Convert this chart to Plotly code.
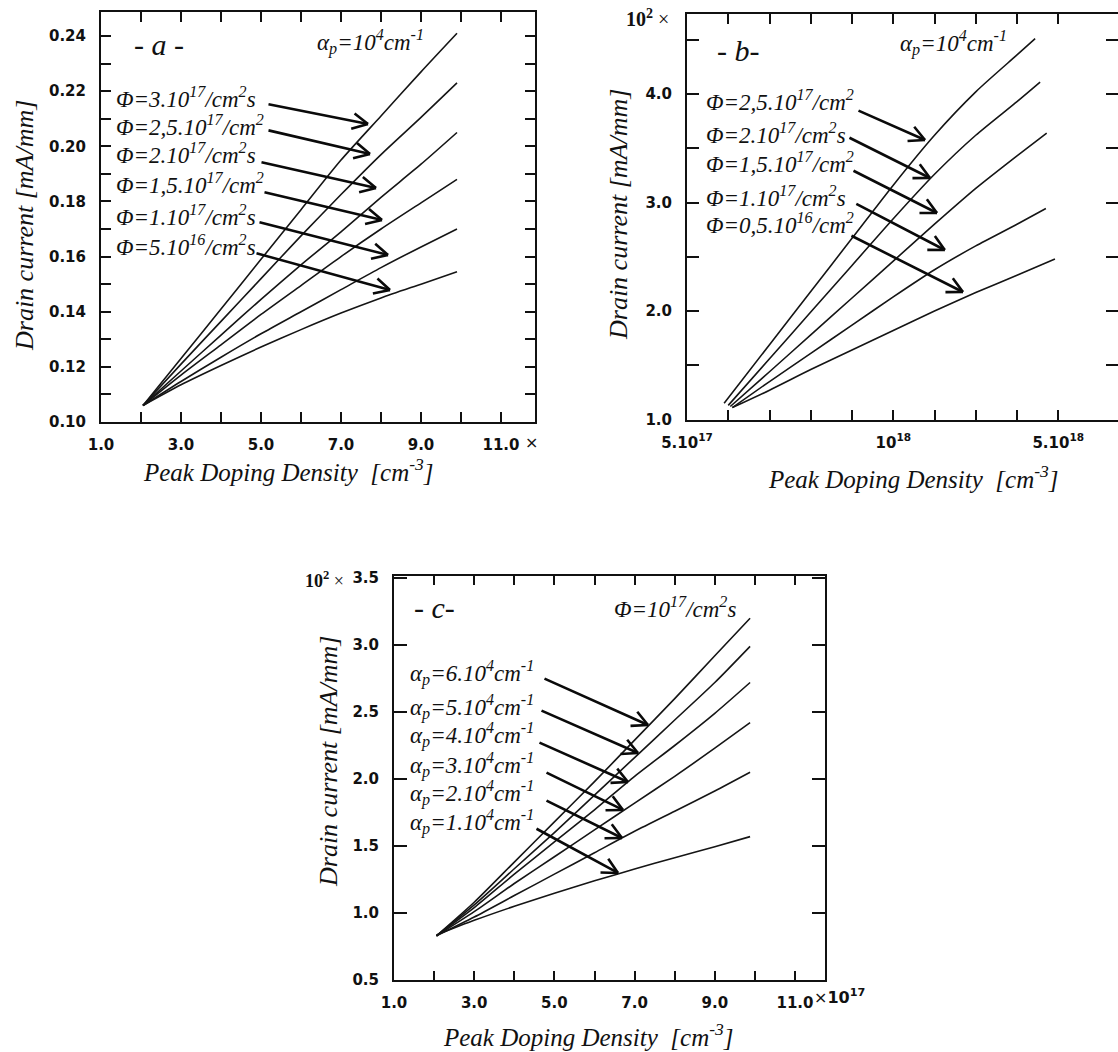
import math
import plotly.graph_objects as go

W, H = 1118, 1052

# ---------------- DATA ----------------
# Panel a : x in units of 1e17 cm^-3, current in 1e2 mA/mm
a_x = [2.05, 3, 4, 5, 6, 7, 8, 9, 9.9]
a_phi_3e17 = [0.106, 0.123, 0.141, 0.159, 0.177, 0.195, 0.211, 0.227, 0.241]
a_phi_25e17 = [0.106, 0.121, 0.1365, 0.152, 0.1675, 0.1825, 0.197, 0.2105, 0.223]
a_phi_2e17 = [0.106, 0.1185, 0.1315, 0.1445, 0.157, 0.169, 0.1815, 0.1935, 0.205]
a_phi_15e17 = [0.106, 0.117, 0.128, 0.139, 0.1495, 0.160, 0.170, 0.1795, 0.188]
a_phi_1e17 = [0.106, 0.1147, 0.1235, 0.132, 0.140, 0.148, 0.156, 0.1635, 0.170]
a_phi_5e16 = [0.106, 0.1135, 0.1205, 0.1272, 0.1335, 0.1395, 0.145, 0.150, 0.1545]
a_labels = ["Φ=3.10<sup>17</sup>/cm<sup>2</sup>s", "Φ=2,5.10<sup>17</sup>/cm<sup>2</sup>",
            "Φ=2.10<sup>17</sup>/cm<sup>2</sup>s", "Φ=1,5.10<sup>17</sup>/cm<sup>2</sup>",
            "Φ=1.10<sup>17</sup>/cm<sup>2</sup>s", "Φ=5.10<sup>16</sup>/cm<sup>2</sup>s"]
a_xticks = [1, 2, 3, 4, 5, 6, 7, 8, 9, 10, 11]
a_xticktext = ["1.0", "", "3.0", "", "5.0", "", "7.0", "", "9.0", "", "11.0"]
a_yticks = [0.10, 0.11, 0.12, 0.13, 0.14, 0.15, 0.16, 0.17, 0.18, 0.19, 0.20, 0.21, 0.22, 0.23, 0.24]
a_yticktext = ["0.10", "", "0.12", "", "0.14", "", "0.16", "", "0.18", "", "0.20", "", "0.22", "", "0.24"]

# Panel b : x in tick-step units of the original (irregular) axis
b_top_x = [0.9, 2, 3, 4, 5, 6, 7, 8, 8.44]
b_top_y = [1.15, 1.69, 2.18, 2.67, 3.16, 3.62, 4.02, 4.36, 4.51]
b_2_x = [1.0, 2, 3, 4, 5, 6, 7, 8, 8.56]
b_2_y = [1.13, 1.56, 1.99, 2.42, 2.85, 3.26, 3.62, 3.93, 4.11]
b_3_x = [1.05, 2, 3, 4, 5, 6, 7, 8, 8.72]
b_3_y = [1.12, 1.44, 1.78, 2.12, 2.46, 2.80, 3.13, 3.43, 3.64]
b_4_x = [1.1, 2, 3, 4, 5, 6, 7, 8, 8.7]
b_4_y = [1.11, 1.35, 1.61, 1.87, 2.13, 2.38, 2.60, 2.80, 2.945]
b_5_x = [1.1, 2, 3, 4, 5, 6, 7, 8, 8.92]
b_5_y = [1.11, 1.27, 1.46, 1.64, 1.82, 2.00, 2.17, 2.33, 2.48]
b_labels = ["Φ=2,5.10<sup>17</sup>/cm<sup>2</sup>", "Φ=2.10<sup>17</sup>/cm<sup>2</sup>s",
            "Φ=1,5.10<sup>17</sup>/cm<sup>2</sup>", "Φ=1.10<sup>17</sup>/cm<sup>2</sup>s",
            "Φ=0,5.10<sup>16</sup>/cm<sup>2</sup>"]
b_xticks = [0, 1, 2, 3, 4, 5, 6, 7, 8, 9]
b_xticktext = ["5.10<sup>17</sup>", "", "", "", "", "10<sup>18</sup>", "", "", "", "5.10<sup>18</sup>"]
b_yticks = [1.0, 1.5, 2.0, 2.5, 3.0, 3.5, 4.0, 4.5]
b_yticktext = ["1.0", "", "2.0", "", "3.0", "", "4.0", ""]

# Panel c
c_x = [2.06, 3, 4, 5, 6, 7, 8, 9, 9.88]
c_a6 = [0.83, 1.08, 1.38, 1.68, 1.98, 2.29, 2.60, 2.92, 3.20]
c_a5 = [0.83, 1.06, 1.33, 1.60, 1.88, 2.16, 2.44, 2.72, 2.99]
c_a4 = [0.83, 1.04, 1.29, 1.53, 1.77, 2.02, 2.25, 2.49, 2.72]
c_a3 = [0.83, 1.01, 1.22, 1.42, 1.62, 1.82, 2.02, 2.23, 2.42]
c_a2 = [0.83, 0.97, 1.13, 1.29, 1.45, 1.61, 1.76, 1.91, 2.05]
c_a1 = [0.836, 0.945, 1.05, 1.148, 1.24, 1.328, 1.413, 1.495, 1.57]
c_labels = ["α<sub>p</sub>=6.10<sup>4</sup>cm<sup>-1</sup>", "α<sub>p</sub>=5.10<sup>4</sup>cm<sup>-1</sup>",
            "α<sub>p</sub>=4.10<sup>4</sup>cm<sup>-1</sup>", "α<sub>p</sub>=3.10<sup>4</sup>cm<sup>-1</sup>",
            "α<sub>p</sub>=2.10<sup>4</sup>cm<sup>-1</sup>", "α<sub>p</sub>=1.10<sup>4</sup>cm<sup>-1</sup>"]
c_xticks = [1, 2, 3, 4, 5, 6, 7, 8, 9, 10, 11]
c_xticktext = ["1.0", "", "3.0", "", "5.0", "", "7.0", "", "9.0", "", "11.0"]
c_yticks = [0.5, 1.0, 1.5, 2.0, 2.5, 3.0, 3.5]
c_yticktext = ["0.5", "1.0", "1.5", "2.0", "2.5", "3.0", "3.5"]

# ---------------- helpers ----------------
def px(x):
    return x / W


def py(y):
    return 1 - y / H


LINE = dict(color="#151515", width=1.6, shape="spline", smoothing=0.7)
fig = go.Figure()

for ys in [a_phi_3e17, a_phi_25e17, a_phi_2e17, a_phi_15e17, a_phi_1e17, a_phi_5e16]:
    fig.add_trace(go.Scatter(x=a_x, y=ys, mode="lines", line=LINE,
                             xaxis="x", yaxis="y", showlegend=False, hoverinfo="skip"))
for xs, ys in [(b_top_x, b_top_y), (b_2_x, b_2_y), (b_3_x, b_3_y), (b_4_x, b_4_y), (b_5_x, b_5_y)]:
    fig.add_trace(go.Scatter(x=xs, y=ys, mode="lines", line=LINE,
                             xaxis="x2", yaxis="y2", showlegend=False, hoverinfo="skip"))
for ys in [c_a6, c_a5, c_a4, c_a3, c_a2, c_a1]:
    fig.add_trace(go.Scatter(x=c_x, y=ys, mode="lines", line=LINE,
                             xaxis="x3", yaxis="y3", showlegend=False, hoverinfo="skip"))
# empty trace so the right-hand tick axis of panel b is drawn
fig.add_trace(go.Scatter(x=[], y=[], xaxis="x2", yaxis="y4", showlegend=False, hoverinfo="skip"))

TICKFONT = dict(family="DejaVu Sans", size=15, color="#111", weight="bold")


def xax(domain, rng, tv, tt, anchor, ticklen):
    return dict(domain=domain, range=rng, anchor=anchor, tickmode="array", tickvals=tv, ticktext=tt,
                ticks="inside", ticklen=ticklen, tickwidth=1.6, tickcolor="#111",
                showline=True, linewidth=2, linecolor="#111", mirror="ticks", automargin=False,
                showgrid=False, zeroline=False, tickfont=TICKFONT, ticklabelstandoff=8)


def yax(domain, rng, tv, tt, anchor, ticklen, mirror="ticks"):
    return dict(domain=domain, range=rng, anchor=anchor, tickmode="array", tickvals=tv, ticktext=tt,
                ticks="inside", ticklen=ticklen, tickwidth=1.6, tickcolor="#111",
                showline=True, linewidth=2, linecolor="#111", mirror=mirror, automargin=False,
                showgrid=False, zeroline=False, tickfont=TICKFONT, ticklabelstandoff=10)


b_yrange = [1.0, 1.0 + (419.5 - 14) / 108.5]
fig.update_layout(
    width=W, height=H, margin=dict(l=0, r=0, t=0, b=0, autoexpand=False),
    paper_bgcolor="white", plot_bgcolor="white",
    xaxis=xax([px(101), px(535)], [1.0, 1.0 + (535 - 101) / 40.0], a_xticks, a_xticktext, "y", 10),
    yaxis=yax([py(422), py(12)], [0.10, 0.10 + (422 - 12) / 2757.0], a_yticks, a_yticktext, "x", 10),
    xaxis2=xax([px(687), 1.0], [0, (1118 - 687) / 41.25], b_xticks, b_xticktext, "y2", 10),
    yaxis2=yax([py(419.5), py(14)], b_yrange, b_yticks, b_yticktext, "x2", 12, mirror=False),
    yaxis4=dict(overlaying="y2", side="right", anchor="x2", range=b_yrange, tickmode="array",
                tickvals=b_yticks, ticktext=[""] * len(b_yticks), ticks="inside", ticklen=12,
                tickwidth=1.6, tickcolor="#111", showline=False, showgrid=False, zeroline=False,
                automargin=False),
    xaxis3=xax([px(394), px(825)], [1.0, 1.0 + (825 - 394) / 40.1], c_xticks, c_xticktext, "y3", 9),
    yaxis3=yax([py(980), py(576)], [0.5, 0.5 + (980 - 576) / 134.0], c_yticks, c_yticktext, "x3", 13),
)

SERIF = "Liberation Serif"
ann = []


def text(xp, ypix, s, size=23, anchor="left", angle=0, family=SERIF, italic=True, color="#111"):
    ann.append(dict(x=px(xp), y=py(ypix), xref="paper", yref="paper", text=(f"<i>{s}</i>" if italic else s),
                    showarrow=False, xanchor=anchor, yanchor="middle", textangle=angle,
                    font=dict(family=family, size=size, color=color)))


def arrow(xr, yr, tx, ty, ax, ay):
    common = dict(xref=xr, yref=yr, x=tx, y=ty, text="", showarrow=True, arrowhead=0,
                  arrowcolor="#0a0a0a", arrowwidth=2.6, standoff=0, startstandoff=0)
    ann.append(dict(common, ax=ax, ay=ay))
    n = math.hypot(ax, ay)
    ux, uy = ax / n, ay / n
    L, ang = 19, math.radians(27)
    for s in (1, -1):
        c, si = math.cos(s * ang), math.sin(s * ang)
        wx, wy = (ux * c - uy * si) * L, (ux * si + uy * c) * L
        ann.append(dict(common, ax=wx, ay=wy))


# ---- panel a texts ----
text(132, 45, "- a -", size=30)
text(315, 42, "α<sub>p</sub>=10<sup>4</sup>cm<sup>-1</sup>", size=23)
for lab, yc in zip(a_labels, [97, 125, 153, 183, 215, 245]):
    text(114, yc, lab)
for tip, off in zip([(7.675, 0.2081), (7.725, 0.1972), (7.875, 0.1849), (8.025, 0.1733), (8.175, 0.1606), (8.225, 0.1479)],
                    [(-101, -20), (-103, -24), (-116, -26), (-119, -28), (-130, -33), (-135, -37)]):
    arrow("x", "y", tip[0], tip[1], off[0], off[1])
text(523, 442, "×", size=16, family="DejaVu Sans", italic=False)
text(24, 226, "Drain current [mA/mm]", size=26, anchor="center", angle=-90)
text(289, 470, "Peak Doping Density  [cm<sup>-3</sup>]", size=25, anchor="center")

# ---- panel b texts ----
text(715, 50, "- b-", size=30)
text(898, 43, "α<sub>p</sub>=10<sup>4</sup>cm<sup>-1</sup>", size=23)
for lab, yc in zip(b_labels, [100, 133, 162, 197, 223]):
    text(704, yc, lab)
for tip, off in zip([(5.77, 3.576), (5.89, 3.226), (6.06, 2.903), (6.25, 2.562), (6.69, 2.175)],
                    [(-68, -30), (-82, -41), (-85, -43), (-90, -47), (-113, -57)]):
    arrow("x2", "y2", tip[0], tip[1], off[0], off[1])
text(624, 18, "<b>10<sup>2</sup></b> ×", size=20, italic=False)
text(618, 215, "Drain current [mA/mm]", size=26, anchor="center", angle=-90)
text(913, 477, "Peak Doping Density  [cm<sup>-3</sup>]", size=25, anchor="center")

# ---- panel c texts ----
text(412, 608, "- c-", size=30)
text(612, 608, "Φ=10<sup>17</sup>/cm<sup>2</sup>s", size=23)
for lab, yc in zip(c_labels, [673, 707, 735, 765, 793, 822]):
    text(408, yc, lab)
for tip, off in zip([(7.334, 2.403), (7.085, 2.194), (6.835, 1.978), (6.711, 1.769), (6.686, 1.560), (6.586, 1.299)],
                    [(-105, -47), (-98, -43), (-90, -40), (-78, -38), (-77, -38), (-83, -45)]):
    arrow("x3", "y3", tip[0], tip[1], off[0], off[1])
text(303, 579, "<b>10<sup>2</sup></b> ×", size=18, italic=False)
text(812, 996, "×<b>10<sup>17</sup></b>", size=16, family="DejaVu Sans", italic=False)
text(328, 762, "Drain current [mA/mm]", size=26, anchor="center", angle=-90)
text(588, 1035, "Peak Doping Density  [cm<sup>-3</sup>]", size=25, anchor="center")

fig.update_layout(annotations=ann)
fig.write_html("out.html")
